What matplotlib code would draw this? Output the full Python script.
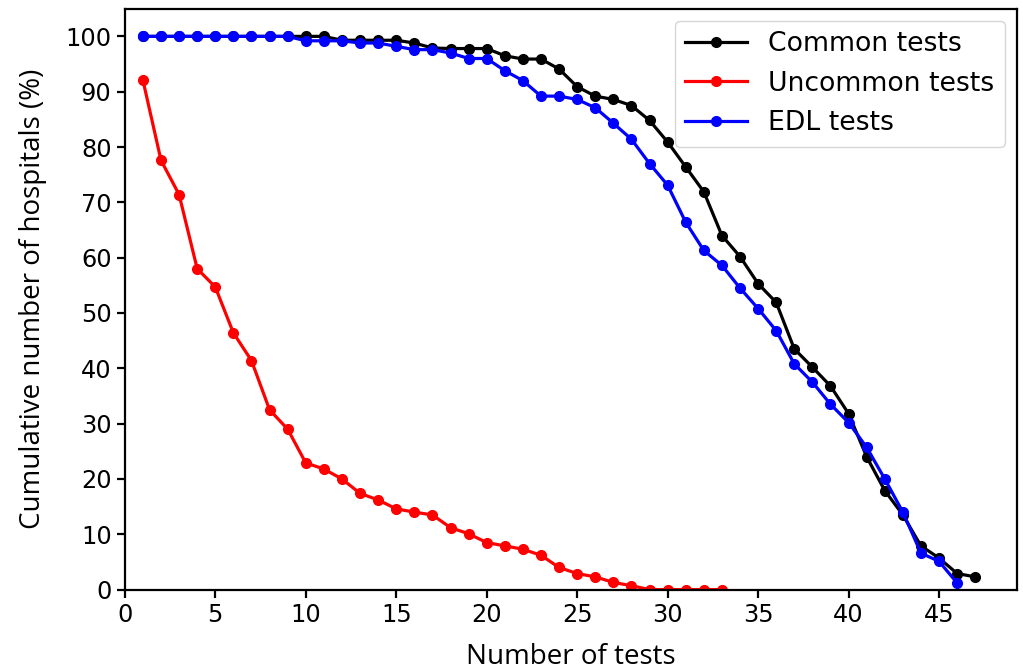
import matplotlib
matplotlib.use("Agg")
import matplotlib.pyplot as plt

# Number of tests on the x axis, one point per test count
n_common = list(range(1, 48))
n_uncommon = list(range(1, 34))
n_edl = list(range(1, 47))

# Cumulative % of hospitals
common_pct = [100, 100, 100, 100, 100, 100, 100, 100, 100, 100,
              100, 99.3, 99.3, 99.3, 99.3, 98.8, 97.9, 97.8, 97.8, 97.8,
              96.5, 95.9, 95.9, 94.1, 90.9, 89.2, 88.6, 87.5, 84.8, 80.9,
              76.4, 71.9, 64.0, 60.2, 55.3, 51.9, 43.5, 40.2, 36.8, 31.8,
              24.0, 17.9, 13.5, 7.9, 5.7, 2.9, 2.3]
uncommon_pct = [92.1, 77.6, 71.4, 58.0, 54.7, 46.4, 41.4, 32.5, 29.0, 22.9,
                21.8, 20.0, 17.4, 16.2, 14.6, 14.0, 13.5, 11.2, 10.1, 8.5,
                7.9, 7.3, 6.2, 4.0, 2.9, 2.3, 1.3, 0.7, 0, 0,
                0, 0, 0]
edl_pct = [100, 100, 100, 100, 100, 100, 100, 100, 100, 99.2,
           99.2, 99.2, 98.8, 98.8, 98.2, 97.6, 97.6, 97.0, 96.0, 96.0,
           93.8, 92.0, 89.2, 89.2, 88.6, 87.1, 84.3, 81.4, 77.0, 73.1,
           66.4, 61.3, 58.6, 54.5, 50.8, 46.8, 40.8, 37.5, 33.5, 30.2,
           25.7, 20.0, 14.0, 6.6, 5.1, 1.2]

fig = plt.figure(figsize=(10.23, 6.7), dpi=100)
ax = fig.add_axes([0.122, 0.120, 0.872, 0.867])

line_kw = dict(marker="o", markersize=7, linewidth=2.3)
ax.plot(n_common, common_pct, color="black", label="Common tests", **line_kw)
ax.plot(n_uncommon, uncommon_pct, color="red", label="Uncommon tests", **line_kw)
ax.plot(n_edl, edl_pct, color="blue", label="EDL tests", **line_kw)

ax.set_xlim(left=0)
ax.set_ylim(bottom=0)
ax.set_xticks(range(0, 46, 5))
ax.set_yticks(range(0, 101, 10))

for side in ax.spines.values():
    side.set_linewidth(1.6)
ax.tick_params(labelsize=17.3, width=1.6, length=6)

label_font = dict(family="Open Sans", fontsize=20)
ax.set_xlabel("Number of tests", **label_font, labelpad=12)
ax.set_ylabel("Cumulative number of hospitals (%)", **label_font, labelpad=13)

ax.legend(loc="upper right", fontsize=19.2, handlelength=2.3, borderaxespad=0.45)

fig.savefig("out.png", dpi=100)
